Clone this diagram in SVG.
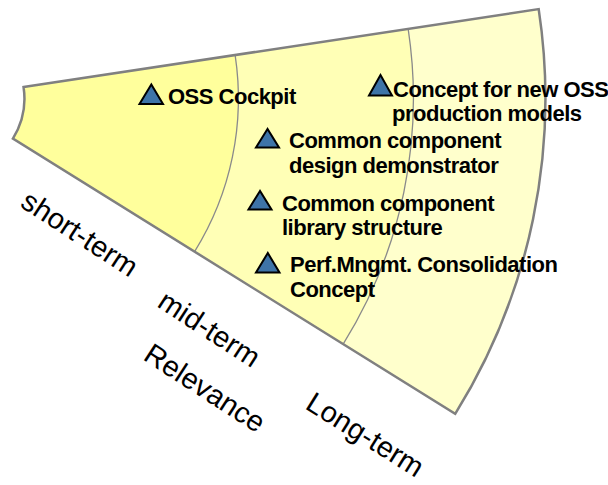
<svg xmlns="http://www.w3.org/2000/svg" width="608" height="485" viewBox="0 0 608 485">
<style>
.lbl{font-family:"Liberation Sans",Arial,sans-serif;font-weight:bold;font-size:22px;letter-spacing:-0.5px;fill:#000}
.axis{font-family:"Liberation Sans",Arial,sans-serif;font-size:29px;fill:#000}
.tri{fill:#3E74A8;stroke:#000;stroke-width:2;stroke-linejoin:miter}
.div{fill:none;stroke:#8a8a8a;stroke-width:1.3}
</style>
<rect width="608" height="485" fill="#fff"/>
<g id="bands">
<path d="M23.55,87.03 L235.14,55.03 A290,290 0 0 1 194.6,251.65 L12.92,138.56 A76,76 0 0 0 23.55,87.03 Z" fill="#FFFF9C"/>
<path d="M235.14,55.03 L408.17,28.86 A465,465 0 0 1 343.16,344.12 L194.6,251.65 A290,290 0 0 0 235.14,55.03 Z" fill="#FFFFB6"/>
<path d="M408.17,28.86 L538.69,9.12 A597,597 0 0 1 455.2,413.88 L343.16,344.12 A465,465 0 0 0 408.17,28.86 Z" fill="#FFFFCC"/>
<path class="div" d="M235.14,55.03 A290,290 0 0 1 194.6,251.65"/>
<path class="div" d="M408.17,28.86 A465,465 0 0 1 343.16,344.12"/>
<path d="M23.55,87.03 L538.69,9.12 A597,597 0 0 1 455.2,413.88 L12.92,138.56 A76,76 0 0 0 23.55,87.03 Z" fill="none" stroke="#808080" stroke-width="2.5" stroke-linejoin="miter"/>
</g>
<g id="oss-cockpit">
<polygon class="tri" points="151.3,84.5 139.5,104 163,104"/>
<text class="lbl" x="168" y="104">OSS Cockpit</text>
</g>
<g id="concept-new-oss">
<polygon class="tri" points="380.5,75 369,95.5 392,95.5"/>
<text class="lbl" x="393" y="97">Concept for new OSS</text>
<text class="lbl" x="392" y="121">production models</text>
</g>
<g id="ccd-demonstrator">
<polygon class="tri" points="267.5,129 256,147.5 279,147.5"/>
<text class="lbl" x="289" y="148">Common component</text>
<text class="lbl" x="289" y="173">design demonstrator</text>
</g>
<g id="ccl-structure">
<polygon class="tri" points="260,191 248.5,209.5 271.5,209.5"/>
<text class="lbl" x="282" y="211">Common component</text>
<text class="lbl" x="282" y="235">library structure</text>
</g>
<g id="perf-mgmt">
<polygon class="tri" points="267.8,253 256,272.5 279.5,272.5"/>
<text class="lbl" x="290" y="272">Perf.Mngmt. Consolidation</text>
<text class="lbl" x="290" y="297">Concept</text>
</g>
<g id="axis-labels">
<text class="axis" transform="translate(19,206) rotate(33)">short-term</text>
<text class="axis" transform="translate(156,306) rotate(33)">mid-term</text>
<text class="axis" transform="translate(142,359) rotate(33)">Relevance</text>
<text class="axis" transform="translate(304,408) rotate(32)">Long-term</text>
</g>
</svg>
